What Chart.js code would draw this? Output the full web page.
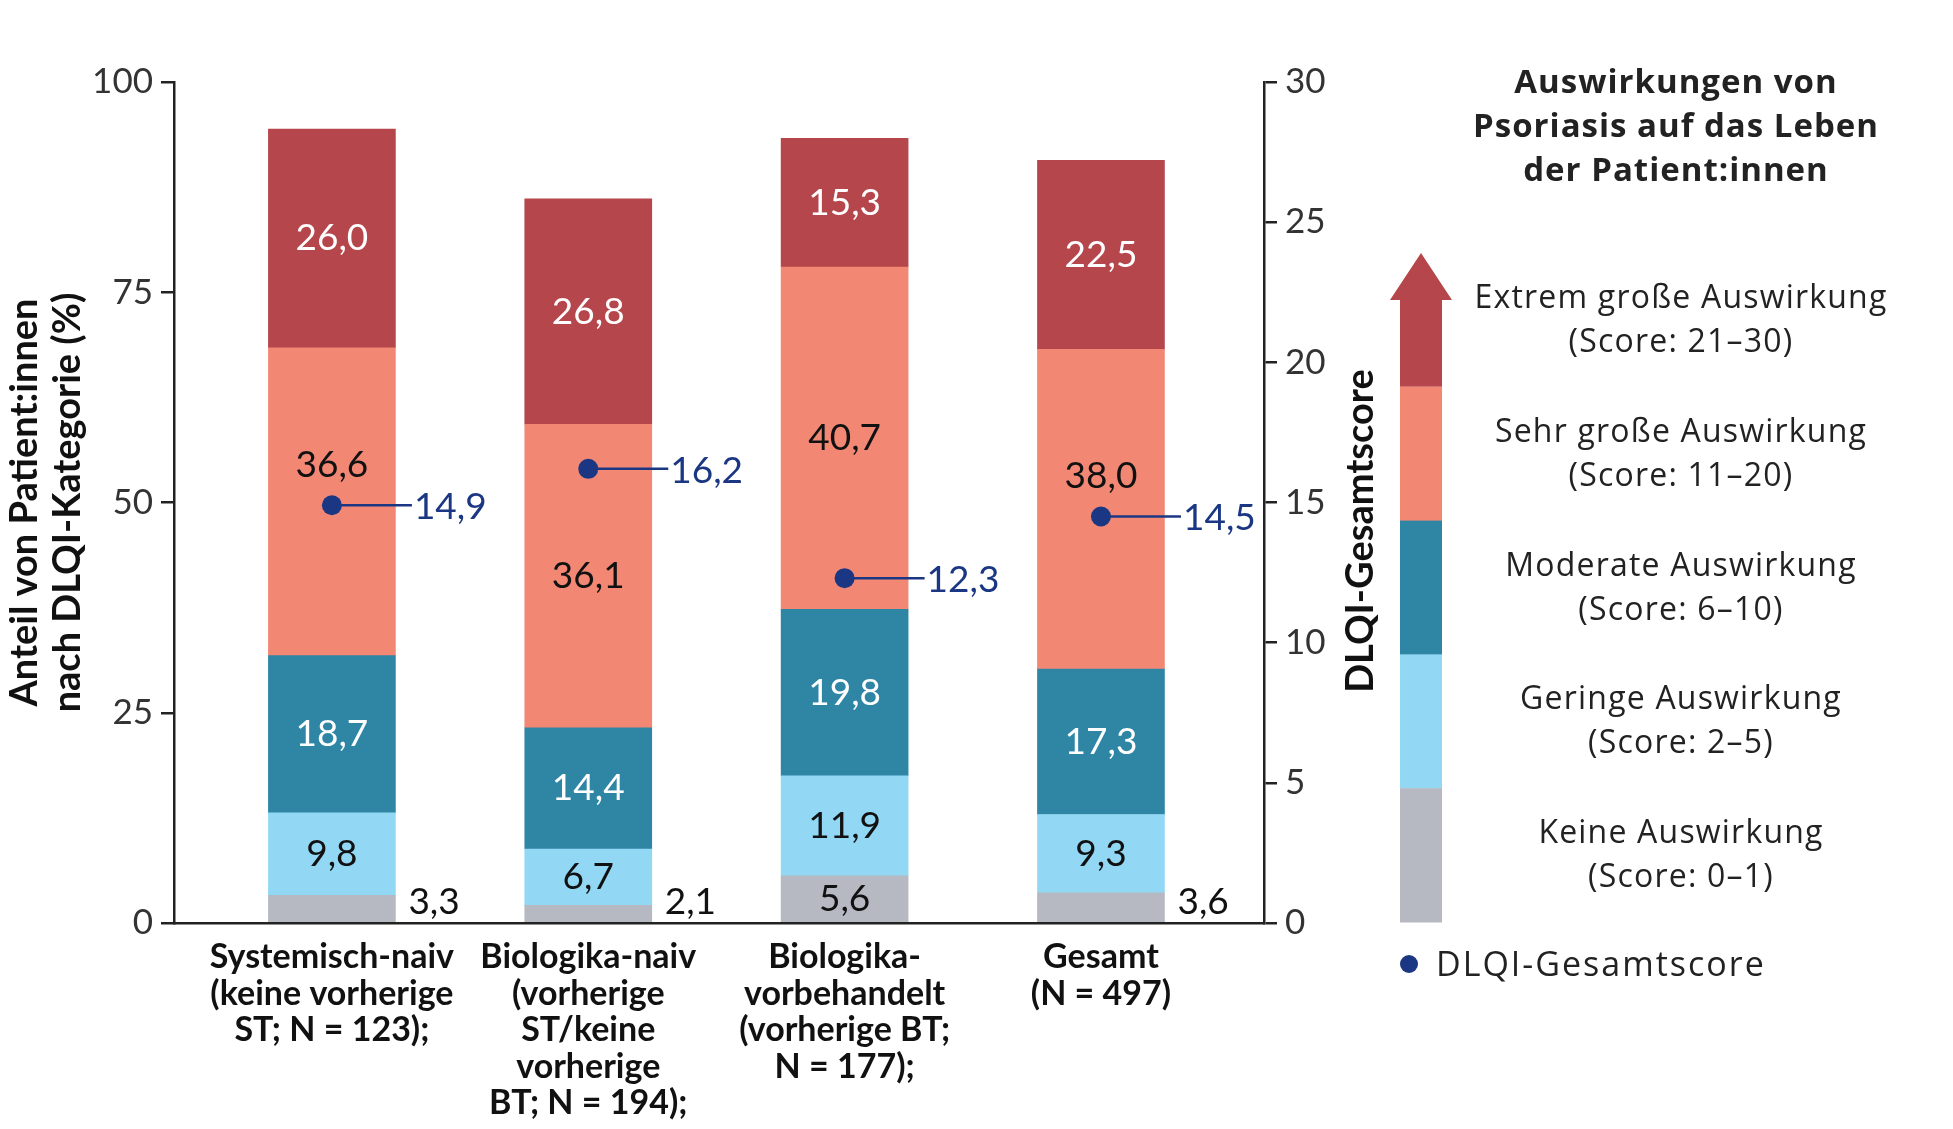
<!DOCTYPE html>
<html lang="de">
<head>
<meta charset="utf-8">
<title>DLQI-Kategorien</title>
<script src="https://cdn.jsdelivr.net/npm/chart.js@4.4.1/dist/chart.umd.min.js"></script>
<style>
  html, body { margin: 0; padding: 0; background: #fff; }
  #wrap { width: 1953px; height: 1129px; }
</style>
</head>
<body>
<div id="wrap"><canvas id="dlqiChart" width="1953" height="1129"></canvas></div>
<script>
// Kategorien (x-Achse)
const categories = [
    ['Systemisch-naiv', '(keine vorherige', 'ST; N = 123);'],
    ['Biologika-naiv', '(vorherige', 'ST/keine', 'vorherige', 'BT; N = 194);'],
    ['Biologika-', 'vorbehandelt', '(vorherige BT;', 'N = 177);'],
    ['Gesamt', '(N = 497)']
];

// Anteile in % je DLQI-Kategorie
const keine = [3.3, 2.1, 5.6, 3.6];
const gering = [9.8, 6.7, 11.9, 9.3];
const moderat = [18.7, 14.4, 19.8, 17.3];
const sehrGross = [36.6, 36.1, 40.7, 38.0];
const extrem = [26.0, 26.8, 15.3, 22.5];

// DLQI-Gesamtscore (rechte Achse)
const dlqiScore = [14.9, 16.2, 12.3, 14.5];

// Achsen
const leftTicks = [0, 25, 50, 75, 100];
const rightTicks = [0, 5, 10, 15, 20, 25, 30];

// Legende
const legendTitle = ['Auswirkungen von', 'Psoriasis auf das Leben', 'der Patient:innen'];
const legendNames = ['Extrem große Auswirkung', 'Sehr große Auswirkung', 'Moderate Auswirkung', 'Geringe Auswirkung', 'Keine Auswirkung'];
const legendScores = ['(Score: 21\u201330)', '(Score: 11\u201320)', '(Score: 6\u201310)', '(Score: 2\u20135)', '(Score: 0\u20131)'];

const colors = {
    keine: '#b6b9c1',
    gering: '#92d8f5',
    moderat: '#2e86a4',
    sehr: '#f28874',
    extrem: '#b5464b',
    dot: '#1b3784'
};

const lato = "'Lato', 'Noto Sans', sans-serif";
const wide = "'Open Sans', 'Noto Sans', sans-serif";

const fmt = v => v.toFixed(1).replace('.', ',');
const toPoints = arr => arr.map((v, i) => ({ x: i, y: v }));

const barSets = [
    { label: 'Keine Auswirkung', data: keine, color: colors.keine, text: '#111' },
    { label: 'Geringe Auswirkung', data: gering, color: colors.gering, text: '#111' },
    { label: 'Moderate Auswirkung', data: moderat, color: colors.moderat, text: '#fff' },
    { label: 'Sehr große Auswirkung', data: sehrGross, color: colors.sehr, text: '#111' },
    { label: 'Extrem große Auswirkung', data: extrem, color: colors.extrem, text: '#fff' }
];

// Beschriftungen, Verbindungslinien und Legende
const decor = {
    id: 'decor',
    afterDatasetsDraw(chart) {
        const ctx = chart.ctx;
        const area = chart.chartArea;
        const dotMeta = chart.getDatasetMeta(barSets.length);

        ctx.save();
        // Werte in den Balken
        ctx.font = '400 37px ' + lato;
        ctx.textBaseline = 'middle';
        barSets.forEach((set, d) => {
            const meta = chart.getDatasetMeta(d);
            meta.data.forEach((bar, i) => {
                const v = set.data[i];
                let y = (bar.y + bar.base) / 2;
                let x = bar.x;
                ctx.fillStyle = set.text;
                ctx.textAlign = 'center';
                if (v < 5) {
                    // zu schmal: rechts neben den Balken
                    x = bar.x + bar.width / 2 + 13;
                    y = area.bottom - 21;
                    ctx.textAlign = 'left';
                    ctx.fillStyle = '#111';
                }
                const p = dotMeta.data[i];
                if (Math.abs(y - p.y) < 45 && ctx.textAlign === 'center') y = p.y - 40;
                ctx.fillText(fmt(v), x, y);
            });
        });

        // Linie vom Punkt zum Score
        ctx.strokeStyle = colors.dot;
        ctx.lineWidth = 2.5;
        ctx.fillStyle = colors.dot;
        ctx.textAlign = 'left';
        dotMeta.data.forEach((p, i) => {
            const end = p.x + 80;
            ctx.beginPath();
            ctx.moveTo(p.x + 8, p.y);
            ctx.lineTo(end, p.y);
            ctx.stroke();
            ctx.fillText(fmt(dlqiScore[i]), end + 2, p.y + 2);
        });

        // Achsentitel
        ctx.fillStyle = '#111';
        ctx.font = '700 38px ' + lato;
        ctx.textAlign = 'center';
        const midY = (area.top + area.bottom) / 2;
        [['Anteil von Patient:innen', 25], ['nach DLQI-Kategorie (%)', 68]].forEach(([t, x]) => {
            ctx.save();
            ctx.translate(x, midY);
            ctx.rotate(-Math.PI / 2);
            ctx.fillText(t, 0, 0);
            ctx.restore();
        });
        ctx.save();
        ctx.translate(1361, 531);
        ctx.rotate(-Math.PI / 2);
        ctx.fillText('DLQI-Gesamtscore', 0, 0);
        ctx.restore();

        // Legende: Titel
        ctx.fillStyle = '#222';
        ctx.font = '700 33px ' + wide;
        ctx.letterSpacing = '1px';
        legendTitle.forEach((t, i) => ctx.fillText(t, 1676, 84 + i * 44));

        // Legende: Pfeil mit Farbstufen
        const top = 253, bottom = 922, headH = 47;
        const colL = 1400, colR = 1442, headL = 1390, headR = 1452;
        const band = (bottom - top) / 5;
        const bandColors = [colors.extrem, colors.sehr, colors.moderat, colors.gering, colors.keine];
        bandColors.forEach((c, i) => {
            ctx.fillStyle = c;
            const y0 = top + i * band;
            if (i === 0) {
                ctx.beginPath();
                ctx.moveTo((colL + colR) / 2, top);
                ctx.lineTo(headR, top + headH);
                ctx.lineTo(colR, top + headH);
                ctx.lineTo(colR, top + band);
                ctx.lineTo(colL, top + band);
                ctx.lineTo(colL, top + headH);
                ctx.lineTo(headL, top + headH);
                ctx.closePath();
                ctx.fill();
            } else {
                ctx.fillRect(colL, y0, colR - colL, band + 0.5);
            }
        });

        // Legende: Texte
        ctx.fillStyle = '#222';
        ctx.font = '400 32px ' + wide;
        ctx.letterSpacing = '1.2px';
        legendNames.forEach((n, i) => {
            const cy = top + (i + 0.5) * band;
            ctx.fillText(n, 1681, cy - 21);
            ctx.fillText(legendScores[i], 1681, cy + 23);
        });

        // Legende: Punkt
        ctx.fillStyle = colors.dot;
        ctx.beginPath();
        ctx.arc(1409, 964, 9, 0, Math.PI * 2);
        ctx.fill();
        ctx.fillStyle = '#222';
        ctx.textAlign = 'left';
        ctx.font = '400 34px ' + wide;
        ctx.letterSpacing = '2px';
        ctx.fillText('DLQI-Gesamtscore', 1436, 966);
        ctx.restore();
    }
};

const datasets = barSets.map(set => ({
    type: 'bar',
    label: set.label,
    data: toPoints(set.data),
    backgroundColor: set.color,
    borderWidth: 0,
    barThickness: 127,
    yAxisID: 'y',
    order: 1
}));

datasets.push({
    type: 'line',
    label: 'DLQI-Gesamtscore',
    data: toPoints(dlqiScore),
    yAxisID: 'y2',
    showLine: false,
    pointRadius: 10,
    pointBackgroundColor: colors.dot,
    pointBorderWidth: 0,
    order: 0
});

const axisColor = '#222';
const tickFont = { family: lato, size: 35, weight: '400' };

new Chart(document.getElementById('dlqiChart'), {
    data: { datasets: datasets },
    options: {
        responsive: false,
        animation: false,
        devicePixelRatio: 1,
        layout: { padding: { top: 82, left: 0, right: 0, bottom: 0 } },
        plugins: { legend: { display: false }, tooltip: { enabled: false } },
        scales: {
            x: {
                type: 'linear',
                offset: false,
                min: -0.616,
                max: 3.636,
                stacked: true,
                afterBuildTicks: s => { s.ticks = categories.map((c, i) => ({ value: i })); },
                afterFit: s => { s.height = 206; },
                grid: { display: false, offset: false },
                border: { display: true, color: axisColor, width: 2.5 },
                ticks: {
                    callback: v => categories[v] || '',
                    autoSkip: false,
                    maxRotation: 0,
                    padding: 8,
                    color: '#111',
                    font: { family: lato, size: 34, weight: '700', lineHeight: 1.075 }
                }
            },
            y: {
                position: 'left',
                stacked: true,
                min: 0,
                max: 100,
                afterBuildTicks: s => { s.ticks = leftTicks.map(v => ({ value: v })); },
                afterFit: s => { s.width = 174; },
                grid: { drawOnChartArea: false, drawTicks: true, tickLength: 13, color: axisColor, lineWidth: 2.5 },
                border: { display: true, color: axisColor, width: 2.5 },
                ticks: { padding: 8, color: '#333', font: tickFont }
            },
            y2: {
                position: 'right',
                stacked: false,
                min: 0,
                max: 30,
                afterBuildTicks: s => { s.ticks = rightTicks.map(v => ({ value: v })); },
                afterFit: s => { s.width = 1953 - 1264; },
                grid: { drawOnChartArea: false, drawTicks: true, tickLength: 13, color: axisColor, lineWidth: 2.5 },
                border: { display: true, color: axisColor, width: 2.5 },
                ticks: { padding: 8, color: '#333', font: tickFont }
            }
        }
    },
    plugins: [decor]
});
</script>
</body>
</html>
